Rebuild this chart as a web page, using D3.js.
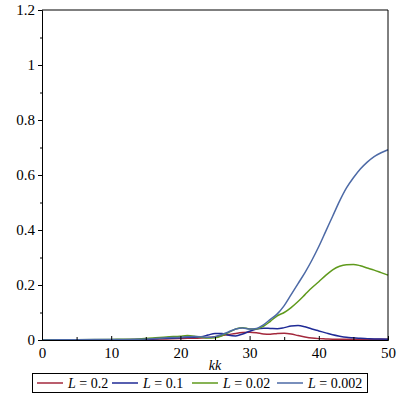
<!DOCTYPE html>
<html>
<head>
<meta charset="utf-8">
<script src="https://cdn.jsdelivr.net/npm/d3@7"></script>
<style>
  body { margin: 0; background: #fff; }
  svg text { font-family: "Liberation Serif", "DejaVu Serif", serif; }
</style>
</head>
<body>
<div id="chart"></div>
<script>
// valeurs
var kk = [0, 5, 10, 14, 16, 18, 20, 21, 22, 23, 24, 25, 26, 27, 28, 29, 30,
  31, 32, 33, 34, 35, 36, 37, 38, 39, 40, 41, 42, 43, 44, 45, 46, 47, 48, 49, 50];

var serieL02 = [0, 0.0005, 0.001, 0.002, 0.003, 0.004, 0.005, 0.006, 0.006, 0.007, 0.009, 0.012, 0.016,
  0.020, 0.024, 0.027, 0.028, 0.026, 0.022, 0.021, 0.024, 0.025, 0.022, 0.016, 0.011, 0.007, 0.005,
  0.004, 0.003, 0.003, 0.003, 0.003, 0.003, 0.003, 0.003, 0.003, 0.003];

var serieL01 = [0, 0.0005, 0.001, 0.002, 0.004, 0.006, 0.008, 0.010, 0.010, 0.012, 0.018, 0.024, 0.024,
  0.017, 0.015, 0.022, 0.032, 0.040, 0.043, 0.042, 0.041, 0.045, 0.051, 0.053, 0.048, 0.040, 0.033,
  0.026, 0.019, 0.014, 0.010, 0.008, 0.006, 0.005, 0.004, 0.004, 0.003];

var serieL002 = [0, 0.001, 0.002, 0.004, 0.007, 0.011, 0.014, 0.016, 0.014, 0.010, 0.007, 0.008, 0.015,
  0.028, 0.040, 0.045, 0.040, 0.040, 0.050, 0.068, 0.088, 0.100, 0.118, 0.140, 0.165, 0.190, 0.212,
  0.235, 0.255, 0.268, 0.274, 0.275, 0.270, 0.262, 0.254, 0.245, 0.236];

var serieL0002 = [0, 0.001, 0.002, 0.003, 0.005, 0.008, 0.010, 0.012, 0.013, 0.012, 0.010, 0.012, 0.020,
  0.030, 0.040, 0.044, 0.040, 0.042, 0.055, 0.075, 0.095, 0.125, 0.165, 0.205, 0.245, 0.290, 0.340,
  0.395, 0.450, 0.505, 0.553, 0.590, 0.622, 0.647, 0.667, 0.681, 0.692];

var legendes = ["0.2", "0.1", "0.02", "0.002"];
var couleurs = ["#a3283c", "#1f2a96", "#5f9a1c", "#4d6aa6"];
var series = [serieL02, serieL01, serieL002, serieL0002];

var xTicks = [0, 10, 20, 30, 40, 50];
var yTicks = [0, 0.2, 0.4, 0.6, 0.8, 1, 1.2];

// dimensions
var width = 399, height = 399;
var mLeft = 42, mRight = 388, mTop = 10, mBottom = 340;

var svg = d3.select("#chart").append("svg")
  .attr("width", width)
  .attr("height", height);

var x = d3.scaleLinear().domain([0, 50]).range([mLeft, mRight]);
var y = d3.scaleLinear().domain([0, 1.2]).range([mBottom, mTop]);

// courbes
var line = d3.line()
  .x(function(d) { return x(d[0]); })
  .y(function(d) { return y(d[1]); })
  .curve(d3.curveMonotoneX);

series.forEach(function(s, i) {
  svg.append("path")
    .datum(kk.map(function(k, j) { return [k, s[j]]; }))
    .attr("fill", "none")
    .attr("stroke", couleurs[i])
    .attr("stroke-width", 1.5)
    .attr("d", line);
});

// cadre (haut et droite)
svg.append("path")
  .attr("d", "M" + mLeft + "," + mTop + "H" + mRight + "V" + mBottom)
  .attr("fill", "none")
  .attr("stroke", "#000")
  .attr("stroke-width", 1);

// axe y
var yAxis = svg.append("g")
  .attr("transform", "translate(" + mLeft + ",0)")
  .call(d3.axisLeft(y).tickValues(yTicks).tickSize(4).tickPadding(3)
    .tickFormat(function(d) { return d3.format("")(d); }));
svg.append("g")
  .attr("transform", "translate(" + mLeft + ",0)")
  .call(d3.axisLeft(y).tickValues(d3.range(0.1, 1.2, 0.2)).tickSize(2).tickFormat(""))
  .select(".domain").remove();

// axe x (graduations vers l'intérieur)
var xAxis = svg.append("g")
  .attr("transform", "translate(0," + mBottom + ")")
  .call(d3.axisBottom(x).tickValues(xTicks).tickSize(-4).tickPadding(6));
svg.append("g")
  .attr("transform", "translate(0," + mBottom + ")")
  .call(d3.axisBottom(x).tickValues([5, 15, 25, 35, 45]).tickSize(-3).tickFormat(""))
  .select(".domain").remove();

[yAxis, xAxis].forEach(function(a) {
  a.select(".domain").attr("stroke", "#000").attr("stroke-width", 1);
  a.selectAll("text")
    .style("font-family", "'Liberation Serif', serif")
    .style("font-size", "15px")
    .attr("fill", "#000");
});
xAxis.selectAll(".tick text").attr("dy", "0.8em");

svg.append("text")
  .attr("x", (mLeft + mRight) / 2)
  .attr("y", 370)
  .attr("text-anchor", "middle")
  .style("font-style", "italic")
  .style("font-size", "14px")
  .text("kk");

// légende
var leg = svg.append("g");
leg.append("rect")
  .attr("x", 32.5).attr("y", 373.5)
  .attr("width", 335).attr("height", 19)
  .attr("fill", "#fff")
  .attr("stroke", "#000");

var legX = [37, 112, 192, 277];
legendes.forEach(function(l, i) {
  leg.append("line")
    .attr("x1", legX[i]).attr("x2", legX[i] + 26)
    .attr("y1", 383).attr("y2", 383)
    .attr("stroke", couleurs[i])
    .attr("stroke-width", 1.5);
  var t = leg.append("text")
    .attr("x", legX[i] + 31)
    .attr("y", 388)
    .style("font-size", "14px");
  t.append("tspan").style("font-style", "italic").text("L");
  t.append("tspan").text(" = " + l);
});
</script>
</body>
</html>
